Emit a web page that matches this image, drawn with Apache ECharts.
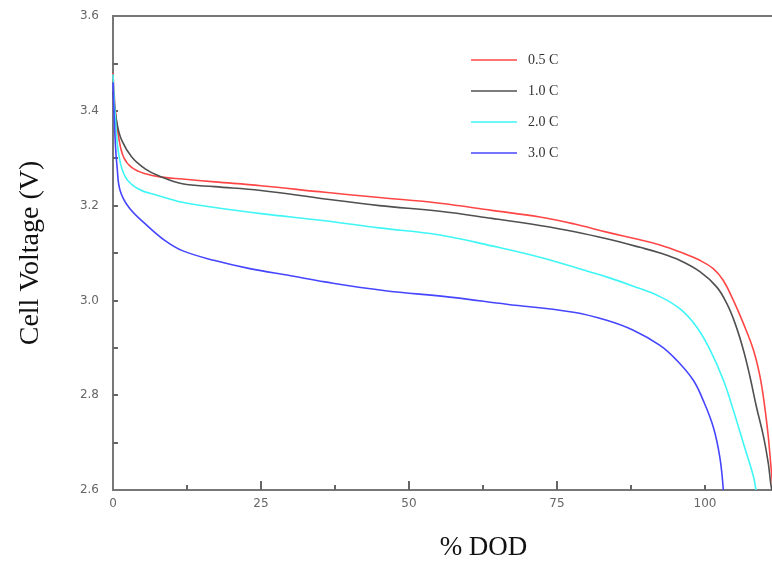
<!DOCTYPE html>
<html>
<head>
<meta charset="utf-8">
<script src="https://cdn.jsdelivr.net/npm/echarts@6/dist/echarts.min.js"></script>
<style>html,body{margin:0;padding:0;background:#fff}#c{width:772px;height:561px}</style>
</head>
<body>
<div id="c"></div>
<script>
// ---- data (DOD %, cell voltage V) ----
const seriesNames = ['0.5 C', '1.0 C', '2.0 C', '3.0 C'];
const dod05 = [0, 0.4, 0.96, 1.8, 3.2, 5.5, 8.3, 11.7, 17.2, 25, 35.8, 45, 55.2, 64, 72.1, 78, 83.4, 89, 92.4, 95.8, 99.2, 101.4, 103.1, 104.8, 106.5, 108.2, 109.3, 110.1, 110.7, 111.1, 111.5];
const v05   = [3.48, 3.40, 3.344, 3.302, 3.28, 3.267, 3.26, 3.256, 3.25, 3.242, 3.228, 3.217, 3.205, 3.19, 3.176, 3.161, 3.144, 3.128, 3.117, 3.102, 3.084, 3.067, 3.042, 3.0, 2.951, 2.895, 2.839, 2.775, 2.712, 2.656, 2.6];
const dod10 = [0, 0.7, 1.5, 3.2, 5.5, 7.7, 11.7, 17.2, 25, 35.8, 45, 55.2, 64, 72.1, 78, 83.4, 89, 92.4, 95.8, 99.2, 102, 103.7, 105.1, 106.5, 107.6, 108.7, 109.9, 110.7, 111.1, 111.3];
const v10   = [3.44, 3.372, 3.337, 3.302, 3.277, 3.263, 3.246, 3.24, 3.232, 3.214, 3.2, 3.188, 3.173, 3.158, 3.145, 3.13, 3.112, 3.1, 3.084, 3.06, 3.028, 2.993, 2.951, 2.895, 2.839, 2.775, 2.712, 2.656, 2.614, 2.6];
const dod20 = [0, 0.4, 0.96, 2.1, 4.3, 7.7, 11.7, 17.2, 25, 35.8, 45, 55.2, 64, 72.1, 80.6, 84, 87.9, 92.4, 95.8, 98.6, 100.8, 103.1, 104.8, 106.5, 108.2, 108.6];
const v20   = [3.477, 3.386, 3.309, 3.26, 3.235, 3.221, 3.207, 3.196, 3.183, 3.168, 3.153, 3.138, 3.115, 3.091, 3.06, 3.047, 3.03, 3.008, 2.982, 2.944, 2.897, 2.832, 2.768, 2.698, 2.628, 2.6];
const dod30 = [0, 0.4, 0.7, 1.2, 2.7, 5.5, 8.8, 11.7, 17.2, 23.1, 30, 35.8, 45.7, 56.9, 66.5, 77.8, 83.4, 87.9, 92.4, 95.2, 98, 99.7, 101.4, 102.5, 103.1];
const v30   = [3.46, 3.33, 3.28, 3.232, 3.196, 3.161, 3.126, 3.105, 3.084, 3.067, 3.052, 3.039, 3.021, 3.007, 2.992, 2.975, 2.958, 2.937, 2.905, 2.874, 2.832, 2.789, 2.733, 2.67, 2.6];
const xLabelValues = [0, 25, 50, 75, 100];
const xMajorTicks = [25, 50, 75];
const xMinorTicks = [12.5, 37.5, 62.5, 87.5, 100];
const yLabelValues = [2.6, 2.8, 3.0, 3.2, 3.4, 3.6];
const yTickValues = [2.7, 2.8, 2.9, 3.0, 3.1, 3.2, 3.3, 3.4, 3.5];
const colors = ['#ff4646', '#505050', '#3ff5f5', '#4646ff'];

const pair = (xs, ys) => xs.map((x, i) => [x, ys[i]]);
const seriesData = [pair(dod05, v05), pair(dod10, v10), pair(dod20, v20), pair(dod30, v30)];

const X_MAX = 111.66;
const GRID_TOP = 16, GRID_BOTTOM = 71, H = 561;
const GRID_H = H - GRID_TOP - GRID_BOTTOM;
const axisColor = '#777';
const chart = echarts.init(document.getElementById('c'), null, {renderer: 'canvas'});
chart.setOption({
  animation: false,
  backgroundColor: '#fff',
  grid: {left: 113, right: -2, top: GRID_TOP, bottom: GRID_BOTTOM, containLabel: false, outerBoundsMode: 'none',
    show: true, borderColor: axisColor, borderWidth: 2, backgroundColor: 'transparent'},
  legend: {
    orient: 'vertical', left: 466, top: 48,
    icon: 'rect', itemWidth: 46, itemHeight: 1.5, itemGap: 17,
    textStyle: {fontFamily: 'Liberation Serif', fontSize: 14, color: '#333', padding: [0, 0, 0, 6]},
    data: seriesNames
  },
  xAxis: [
    {
      type: 'value', min: 0, max: X_MAX, position: 'bottom',
      name: '% DOD', nameLocation: 'middle', nameGap: 44,
      nameTextStyle: {fontFamily: 'Liberation Serif', fontSize: 27, color: '#111', padding: [0, 0, 0, 80]},
      axisLine: {show: true, lineStyle: {color: axisColor, width: 2}},
      axisTick: {show: true, inside: true, length: 9, customValues: xMajorTicks, lineStyle: {color: '#666', width: 2}},
      axisLabel: {show: true, customValues: xLabelValues, margin: 8, fontFamily: 'DejaVu Sans', fontSize: 12, color: '#666'},
      splitLine: {show: false}
    },
    {
      // minor ticks along the bottom edge (top-positioned axis shifted down by the grid height)
      type: 'value', min: 0, max: X_MAX, position: 'top', offset: -GRID_H,
      axisLine: {show: false},
      axisTick: {show: true, inside: false, length: 5, customValues: xMinorTicks, lineStyle: {color: '#666', width: 2}},
      axisLabel: {show: false},
      splitLine: {show: false}
    }
  ],
  yAxis: {
    type: 'value', min: 2.6, max: 3.6,
    name: 'Cell Voltage (V)', nameLocation: 'middle', nameGap: 68,
    nameTextStyle: {fontFamily: 'Liberation Serif', fontSize: 28, color: '#111'},
    axisLine: {show: true, lineStyle: {color: axisColor, width: 2}},
    axisTick: {show: true, inside: true, length: 5, customValues: yTickValues, lineStyle: {color: '#666', width: 2}},
    axisLabel: {show: true, customValues: yLabelValues, margin: 14, fontFamily: 'DejaVu Sans', fontSize: 12, color: '#666',
      formatter: v => v.toFixed(1)},
    splitLine: {show: false}
  },
  series: seriesNames.map((n, i) => ({
    name: n, type: 'line', xAxisIndex: 0, data: seriesData[i],
    symbol: 'none', smooth: 0.4, clip: true,
    lineStyle: {color: colors[i], width: 1.6},
    itemStyle: {color: colors[i]}
  }))
});
</script>
</body>
</html>
